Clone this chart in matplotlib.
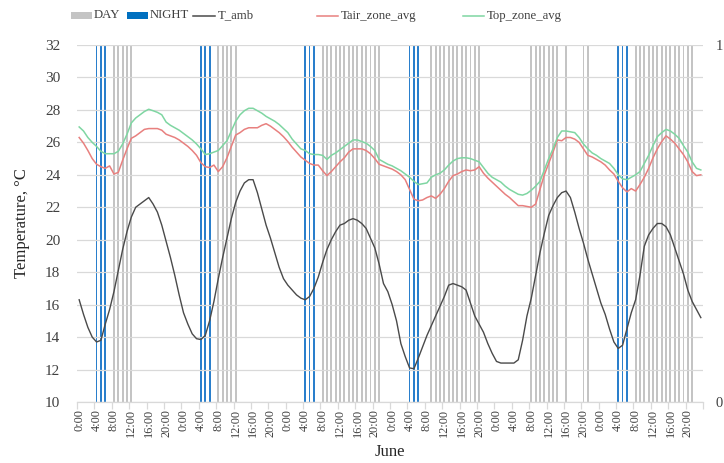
import matplotlib
matplotlib.use("Agg")
import matplotlib.pyplot as plt
from matplotlib.patches import Rectangle
from matplotlib.lines import Line2D
import numpy as np

plt.rcParams['font.family'] = ['Liberation Serif', 'DejaVu Serif']

# ---------------- data (hourly, 6 days in June) ----------------
hour_labels = ["0:00", "4:00", "8:00", "12:00", "16:00", "20:00"] * 6

t_amb = [
    # day 1
    16.3, 15.4, 14.6, 14.0, 13.7, 13.8, 14.8, 15.7, 16.8, 18.1, 19.4, 20.5,
    21.4, 22.0, 22.2, 22.4, 22.6, 22.2, 21.7, 20.9, 19.9, 18.9, 17.8, 16.6,
    # day 2
    15.5, 14.8, 14.2, 13.9, 13.85, 14.1, 15.0, 16.2, 17.6, 18.9, 20.1, 21.3,
    22.3, 23.0, 23.5, 23.7, 23.7, 22.9, 21.9, 20.9, 20.1, 19.2, 18.3, 17.6,
    # day 3
    17.2, 16.9, 16.6, 16.4, 16.3, 16.5, 17.0, 17.7, 18.6, 19.4, 20.0, 20.5,
    20.9, 21.0, 21.2, 21.3, 21.2, 21.0, 20.7, 20.1, 19.5, 18.5, 17.3, 16.8,
    # day 4
    16.0, 15.0, 13.6, 12.8, 12.1, 12.05, 12.7, 13.4, 14.1, 14.7, 15.3, 15.9,
    16.5, 17.2, 17.3, 17.2, 17.1, 16.9, 16.1, 15.3, 14.8, 14.3, 13.6, 13.0,
    # day 5
    12.5, 12.4, 12.4, 12.4, 12.4, 12.6, 13.8, 15.3, 16.4, 17.8, 19.2, 20.4,
    21.5, 22.1, 22.6, 22.9, 23.0, 22.6, 21.7, 20.7, 19.8, 18.8, 17.9, 17.0,
    # day 6
    16.1, 15.4, 14.5, 13.7, 13.3, 13.5, 14.5, 15.5, 16.3, 17.8, 19.6, 20.3,
    20.7, 21.0, 21.0, 20.8, 20.3, 19.5, 18.7, 17.9, 16.9, 16.2, 15.7, 15.2,
]

tair_zone_avg = [
    26.3, 25.95, 25.5, 25.0, 24.65, 24.5, 24.4, 24.55, 24.05, 24.15, 24.9, 25.6,
    26.25, 26.4, 26.6, 26.8, 26.85, 26.85, 26.85, 26.75, 26.5, 26.4, 26.3, 26.15,
    25.95, 25.75, 25.5, 25.2, 24.75, 24.5, 24.45, 24.6, 24.2, 24.5, 25.05, 25.75,
    26.45, 26.6, 26.8, 26.9, 26.9, 26.9, 27.05, 27.15, 27.0, 26.8, 26.6, 26.35,
    26.05, 25.7, 25.4, 25.1, 24.9, 24.7, 24.6, 24.6, 24.25, 23.95, 24.2, 24.5,
    24.8, 25.05, 25.4, 25.6, 25.6, 25.6, 25.5, 25.3, 25.0, 24.65, 24.55, 24.45,
    24.35, 24.2, 24.0, 23.7, 23.1, 22.5, 22.4, 22.45, 22.6, 22.7, 22.55, 22.8,
    23.15, 23.6, 23.95, 24.05, 24.2, 24.3, 24.25, 24.3, 24.5, 24.1, 23.8, 23.55,
    23.3, 23.05, 22.8, 22.6, 22.35, 22.1, 22.1, 22.05, 22.0, 22.2, 23.1, 24.0,
    24.7, 25.4, 26.15, 26.1, 26.3, 26.3, 26.2, 26.0, 25.6, 25.2, 25.1, 24.95,
    24.8, 24.6, 24.3, 24.05, 23.6, 23.2, 22.95, 23.15, 23.0, 23.4, 23.85, 24.4,
    25.05, 25.6, 26.05, 26.4, 26.2, 25.95, 25.6, 25.25, 24.8, 24.2, 23.95, 24.0,
]

top_zone_avg = [
    26.95, 26.7, 26.3, 26.0, 25.75, 25.45, 25.3, 25.3, 25.3, 25.45, 25.9, 26.5,
    27.2, 27.5, 27.7, 27.9, 28.04, 27.95, 27.85, 27.7, 27.25, 27.05, 26.9, 26.75,
    26.55, 26.35, 26.15, 25.9, 25.6, 25.25, 25.3, 25.4, 25.5, 25.8, 26.1, 26.7,
    27.3, 27.7, 27.95, 28.1, 28.1, 27.95, 27.8, 27.6, 27.45, 27.3, 27.1, 26.85,
    26.6, 26.2, 25.9, 25.6, 25.5, 25.3, 25.25, 25.25, 25.2, 24.95, 25.2, 25.35,
    25.55, 25.75, 25.95, 26.15, 26.15, 26.05, 25.95, 25.75, 25.5, 24.95, 24.8, 24.65,
    24.55, 24.4, 24.25, 24.05, 23.85, 23.6, 23.4, 23.45, 23.5, 23.85, 24.0, 24.1,
    24.3, 24.6, 24.85, 25.0, 25.05, 25.05, 25.0, 24.9, 24.8, 24.45, 24.1, 23.85,
    23.7, 23.55, 23.3, 23.1, 22.95, 22.8, 22.75, 22.85, 23.05, 23.3, 23.6, 24.3,
    25.0, 25.6, 26.3, 26.7, 26.7, 26.65, 26.6, 26.3, 25.9, 25.6, 25.35, 25.2,
    25.0, 24.85, 24.7, 24.4, 24.0, 23.75, 23.7, 23.85, 24.0, 24.2, 24.7, 25.2,
    25.8, 26.35, 26.6, 26.8, 26.7, 26.5, 26.25, 25.8, 25.4, 24.8, 24.4, 24.3,
]

# DAY / NIGHT flags (1 = active) per hour
day_flag = [
    0,0,0,0,0,0,0,0,1,1,1,1,1,0,0,0,0,0,0,0,0,0,0,0,
    0,0,0,0,0,0,0,0,1,1,1,1,1,0,0,0,0,0,0,0,0,0,0,0,
    0,0,0,0,0,0,0,0,1,1,1,1,1,1,1,1,1,1,1,1,1,1,0,0,
    0,0,0,0,0,0,0,0,0,1,1,1,1,1,1,1,1,1,1,1,1,0,0,0,
    0,0,0,0,0,0,0,0,1,1,1,1,1,1,1,0,1,0,0,0,1,1,0,0,
    0,0,0,0,0,0,0,0,1,1,1,1,1,1,1,1,1,1,1,1,1,1,0,0,
]
night_flag = [
    0,0,0,0,1,1,1,0,0,0,0,0,0,0,0,0,0,0,0,0,0,0,0,0,
    0,0,0,0,1,1,1,0,0,0,0,0,0,0,0,0,0,0,0,0,0,0,0,0,
    0,0,0,0,1,1,1,0,0,0,0,0,0,0,0,0,0,0,0,0,0,0,0,0,
    0,0,0,0,1,1,1,0,0,0,0,0,0,0,0,0,0,0,0,0,0,0,0,0,
    0,0,0,0,0,0,0,0,0,0,0,0,0,0,0,0,0,0,0,0,0,0,0,0,
    0,0,0,0,1,1,1,0,0,0,0,0,0,0,0,0,0,0,0,0,0,0,0,0,
]

# ---------------- styling ----------------
C_DAY = '#c4c4c4'
C_NIGHT = '#2a7fcc'
C_AMB = '#4a4a4a'
C_TAIR = '#e8807f'
C_TOP = '#7fd6a2'
C_GRID = '#d9d9d9'

W, H = 724, 463
fig = plt.figure(figsize=(W / 100, H / 100), dpi=100)
x0, x1, y0, y1 = 77, 703, 45, 402
rect = [x0 / W, 1 - y1 / H, (x1 - x0) / W, (y1 - y0) / H]

ax2 = fig.add_axes(rect)          # secondary axis: DAY/NIGHT bars
ax = fig.add_axes(rect, sharex=ax2)  # primary: temperatures
ax.patch.set_visible(False)

hours = np.arange(len(t_amb))

ax2.bar(hours, day_flag, width=0.42, color=C_DAY, linewidth=0)
ax2.bar(hours, night_flag, width=0.42, color=C_NIGHT, linewidth=0)
ax2.set_ylim(0, 1)
ax2.yaxis.tick_right()
ax2.set_yticks([0, 1])
ax2.set_yticklabels(['0', '1'])
ax2.tick_params(axis='y', length=0, pad=9, labelsize=10.5, colors='#404040')
for s in ax2.spines.values():
    s.set_visible(False)
ax2.tick_params(axis='x', which='both', bottom=False, labelbottom=False)

ax.plot(hours, t_amb, color=C_AMB, lw=1.0, label='T_amb')
ax.plot(hours, tair_zone_avg, color=C_TAIR, lw=1.1, label='Tair_zone_avg')
ax.plot(hours, top_zone_avg, color=C_TOP, lw=1.1, label='Top_zone_avg')

ax.set_ylim(10, 32)
ax.set_yticks(np.arange(10, 33, 2))
ax.yaxis.grid(True, color=C_GRID, lw=0.9)
ax.set_axisbelow(True)
ax.tick_params(axis='y', length=0, pad=12, labelsize=11, colors='#404040')

ax.set_xlim(-0.5, len(t_amb) - 0.5)
ax.set_xticks(hours[::4])
ax.set_xticklabels(hour_labels, rotation=90, fontsize=8.8, color='#404040')
ax.set_xticks(np.arange(-0.5, len(t_amb), 4), minor=True)
ax.tick_params(axis='x', which='major', length=0, pad=5)
ax.tick_params(axis='x', which='minor', length=5, color=C_GRID, width=0.9)

for k in ['top', 'right', 'left']:
    ax.spines[k].set_visible(False)
ax.spines['bottom'].set_color(C_GRID)
ax.spines['bottom'].set_linewidth(0.9)

ax.set_ylabel('Temperature, °C', fontsize=12, color='#262626', labelpad=11)
fig.text((x0 + x1) / 2 / W, 1 - 452 / H, 'June', ha='center', va='center',
         fontsize=12, color='#262626')

# ---------------- legend (manual, top) ----------------
def fx(px):
    return px / W

def fy(py):
    return 1 - py / H

ly = 15.5
leg_fs = 9.2
fig.patches.append(Rectangle((fx(71), fy(ly + 3.5)), fx(92) - fx(71), 7 / H,
                             transform=fig.transFigure, color=C_DAY, lw=0))
fig.text(fx(94), fy(ly), 'DAY', va='center', ha='left', fontsize=leg_fs, color='#404040')
fig.patches.append(Rectangle((fx(127), fy(ly + 3.5)), fx(148) - fx(127), 7 / H,
                             transform=fig.transFigure, color='#0070c0', lw=0))
fig.text(fx(149.5), fy(ly), 'NIGHT', va='center', ha='left', fontsize=leg_fs, color='#404040')
for (a, b, c, lab) in [(193, 215, C_AMB, 'T_amb'),
                       (317, 338, C_TAIR, 'Tair_zone_avg'),
                       (463, 484, C_TOP, 'Top_zone_avg')]:
    fig.lines.append(Line2D([fx(a), fx(b)], [fy(ly), fy(ly)], transform=fig.transFigure,
                            color=c, lw=1.1))
    fig.text(fx(b + 2.5), fy(ly), lab, va='center', ha='left', fontsize=leg_fs, color='#404040')

fig.savefig('out.png', dpi=100)
